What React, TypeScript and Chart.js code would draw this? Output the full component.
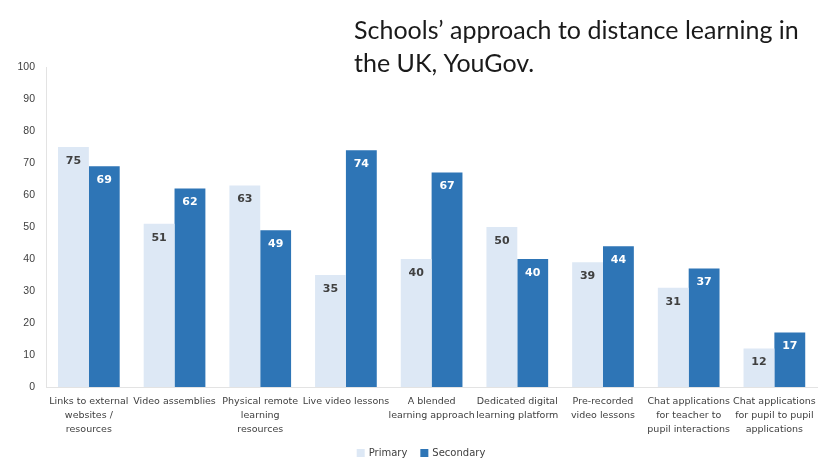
import React, { useEffect, useRef } from "react";
import { Chart, registerables } from "chart.js";

Chart.register(...registerables);

const categories: (string | string[])[] = [
  ["Links to external", "websites /", "resources"],
  "Video assemblies",
  ["Physical remote", "learning", "resources"],
  "Live video lessons",
  ["A blended", "learning approach"],
  ["Dedicated digital", "learning platform"],
  ["Pre-recorded", "video lessons"],
  ["Chat applications", "for teacher to", "pupil interactions"],
  ["Chat applications", "for pupil to pupil", "applications"],
];
const primaryValues = [75, 51, 63, 35, 40, 50, 39, 31, 12];
const secondaryValues = [69, 62, 49, 74, 67, 40, 44, 37, 17];
const titleLines = ["Schools\u2019 approach to distance learning in", "the UK, YouGov."];

const PRIMARY_COLOR = "#DDE8F5";
const SECONDARY_COLOR = "#2E75B6";

const titlePlugin = {
  id: "customTitle",
  afterDraw(chart: any) {
    const ctx = chart.ctx;
    ctx.save();
    ctx.font = "25px Lato";
    ctx.fillStyle = "#1a1a1a";
    ctx.textAlign = "left";
    ctx.textBaseline = "alphabetic";
    ctx.fillText(titleLines[0], 354, 39);
    ctx.fillText(titleLines[1], 354, 72);
    ctx.restore();
  },
};

const legendPlugin = {
  id: "customLegend",
  afterDraw(chart: any) {
    const ctx = chart.ctx;
    ctx.save();
    ctx.font = "10px 'DejaVu Sans'";
    ctx.textBaseline = "middle";
    ctx.textAlign = "left";
    const y = 453;
    const box = 8;
    const gap = 4;
    const itemGap = 13;
    const items = chart.data.datasets.map((ds: any) => ({
      label: ds.label,
      color: ds.backgroundColor,
      w: box + gap + ctx.measureText(ds.label).width,
    }));
    const total = items.reduce((s: number, it: any) => s + it.w, 0) + itemGap * (items.length - 1);
    let x = (chart.width - total) / 2 + 9;
    items.forEach((it: any) => {
      ctx.fillStyle = it.color;
      ctx.fillRect(x, y - box / 2, box, box);
      ctx.fillStyle = "#404040";
      ctx.fillText(it.label, x + box + gap, y);
      x += it.w + itemGap;
    });
    ctx.restore();
  },
};

const labelPlugin = {
  id: "barLabels",
  afterDatasetsDraw(chart: any) {
    const ctx = chart.ctx;
    ctx.save();
    ctx.font = "bold 11px 'DejaVu Sans'";
    ctx.textAlign = "center";
    ctx.textBaseline = "middle";
    chart.data.datasets.forEach((ds: any, di: number) => {
      const meta = chart.getDatasetMeta(di);
      meta.data.forEach((bar: any, i: number) => {
        ctx.fillStyle = di === 0 ? "#404040" : "#ffffff";
        ctx.fillText(String(ds.data[i]), bar.x, bar.y + 14);
      });
    });
    ctx.restore();
  },
};

export default function App() {
  const ref = useRef<HTMLCanvasElement>(null);
  useEffect(() => {
    if (!ref.current) return;
    const chart = new Chart(ref.current, {
      type: "bar",
      data: {
        labels: categories,
        datasets: [
          {
            label: "Primary",
            data: primaryValues,
            backgroundColor: PRIMARY_COLOR,
            barPercentage: 1,
            categoryPercentage: 0.72,
          },
          {
            label: "Secondary",
            data: secondaryValues,
            backgroundColor: SECONDARY_COLOR,
            barPercentage: 1,
            categoryPercentage: 0.72,
          },
        ],
      },
      options: {
        animation: false,
        responsive: false,
        maintainAspectRatio: false,
        layout: { padding: { top: 67, right: 6, left: 0, bottom: 0 } },
        plugins: {
          legend: { display: false },
          title: { display: false },
          tooltip: { enabled: false },
        },
        scales: {
          x: {
            grid: { display: false, drawTicks: false },
            border: { display: true, color: "#e3e3e3" },
            ticks: {
              color: "#404040",
              font: { family: "'DejaVu Sans'", size: 9.5, lineHeight: 1.45 },
              maxRotation: 0,
              autoSkip: false,
              padding: 8,
            },
            afterFit(scale: any) {
              scale.height = 74;
            },
          },
          y: {
            min: 0,
            max: 100,
            grid: { display: false, drawTicks: false },
            border: { display: true, color: "#e3e3e3" },
            ticks: {
              stepSize: 10,
              color: "#404040",
              font: { family: "'Liberation Sans'", size: 10.5 },
              padding: 11,
            },
            afterFit(scale: any) {
              scale.width = 46;
            },
          },
        },
      },
      plugins: [titlePlugin, labelPlugin, legendPlugin],
    });
    return () => chart.destroy();
  }, []);
  return (
    <div style={{ position: "absolute", left: 0, top: 0, width: 824, height: 461, background: "#fff" }}>
      <canvas ref={ref} width={824} height={461} />
    </div>
  );
}
